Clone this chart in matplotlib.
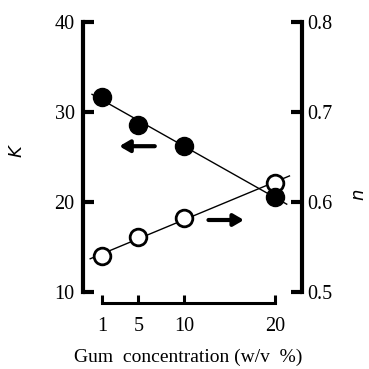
import numpy as np
import matplotlib
matplotlib.use("Agg")
import matplotlib.pyplot as plt

plt.rcParams['font.family'] = ['Liberation Serif', 'DejaVu Serif']

# gum concentration (w/v %)
conc = [1, 5, 10, 20]
# consistency index K (filled circles, left axis)
K = [31.7, 28.6, 26.2, 20.6]
# flow behaviour index n (open circles, right axis)
n = [0.540, 0.561, 0.582, 0.621]

xticks = [1, 5, 10, 20]
kticks = [10, 20, 30, 40]
nticks = [0.5, 0.6, 0.7, 0.8]

fig = plt.figure(figsize=(3.69, 3.69), dpi=100)
# axes box in pixels: x 83..302, y 20..303 (from top)
ax = fig.add_axes([83/369, 66/369, 219/369, 283/369])
ax.set_xlim(-1.09, 22.98)
ax.set_ylim(10 - 11/9, 40 + 2/9)

# fitted lines
xl = np.array([-0.1, 21.3])
p = np.polyfit(conc, K, 1)
ax.plot(xl, np.polyval(p, xl), color='black', lw=1.0, zorder=2)
ax.plot(conc, K, 'o', ms=13, mfc='black', mec='black', zorder=3)

for s in ['top', 'right']:
    ax.spines[s].set_visible(False)
ax.spines['left'].set_linewidth(3)
ax.spines['left'].set_bounds(10, 40)
ax.spines['bottom'].set_linewidth(2.2)
ax.spines['bottom'].set_bounds(1, 20)
ax.set_xticks(xticks)
ax.set_yticks(kticks)
ax.tick_params(axis='y', direction='in', length=8, width=3, labelsize=14.5, pad=6)
ax.tick_params(axis='x', direction='in', length=6, width=2.2, labelsize=14.5, pad=10)

ax2 = ax.twinx()
ax2.set_ylim(0.5 - 11/900, 0.8 + 2/900)
xl2 = np.array([-0.3, 21.6])
p2 = np.polyfit(conc, n, 1)
ax2.plot(xl2, np.polyval(p2, xl2), color='black', lw=1.0, zorder=2)
ax2.plot(conc, n, 'o', ms=12, mfc='white', mec='black', mew=2, zorder=3)
for s in ['top', 'left', 'bottom']:
    ax2.spines[s].set_visible(False)
ax2.spines['right'].set_linewidth(3)
ax2.spines['right'].set_bounds(0.5, 0.8)
ax2.set_yticks(nticks)
ax2.set_yticklabels(['0.5', '0.6', '0.7', '0.8'])
ax2.tick_params(axis='y', direction='in', length=8, width=3, labelsize=14.5, pad=4)

# filled circles sit on top of the open ones
ax.set_zorder(ax2.get_zorder() + 1)
ax.patch.set_visible(False)

# axis titles
fig.text(18/369, 1 - 150/369, '$K$', fontsize=13, rotation=90, ha='center', va='center')
fig.text(360/369, 1 - 195/369, '$n$', fontsize=13, rotation=90, ha='center', va='center')
fig.text(188/369, 1 - 357/369, 'Gum  concentration (w/v  %)', fontsize=14,
         ha='center', va='center')

# arrows indicating which axis each series belongs to
ax.annotate('', xy=(2.9, 26.2), xytext=(6.8, 26.2),
            arrowprops=dict(arrowstyle='-|>,head_length=0.6,head_width=0.35',
                            lw=3, color='black', shrinkA=0, shrinkB=0))
ax.annotate('', xy=(16.6, 18.0), xytext=(12.7, 18.0),
            arrowprops=dict(arrowstyle='-|>,head_length=0.6,head_width=0.35',
                            lw=3, color='black', shrinkA=0, shrinkB=0))

fig.savefig('out.png', dpi=100)
